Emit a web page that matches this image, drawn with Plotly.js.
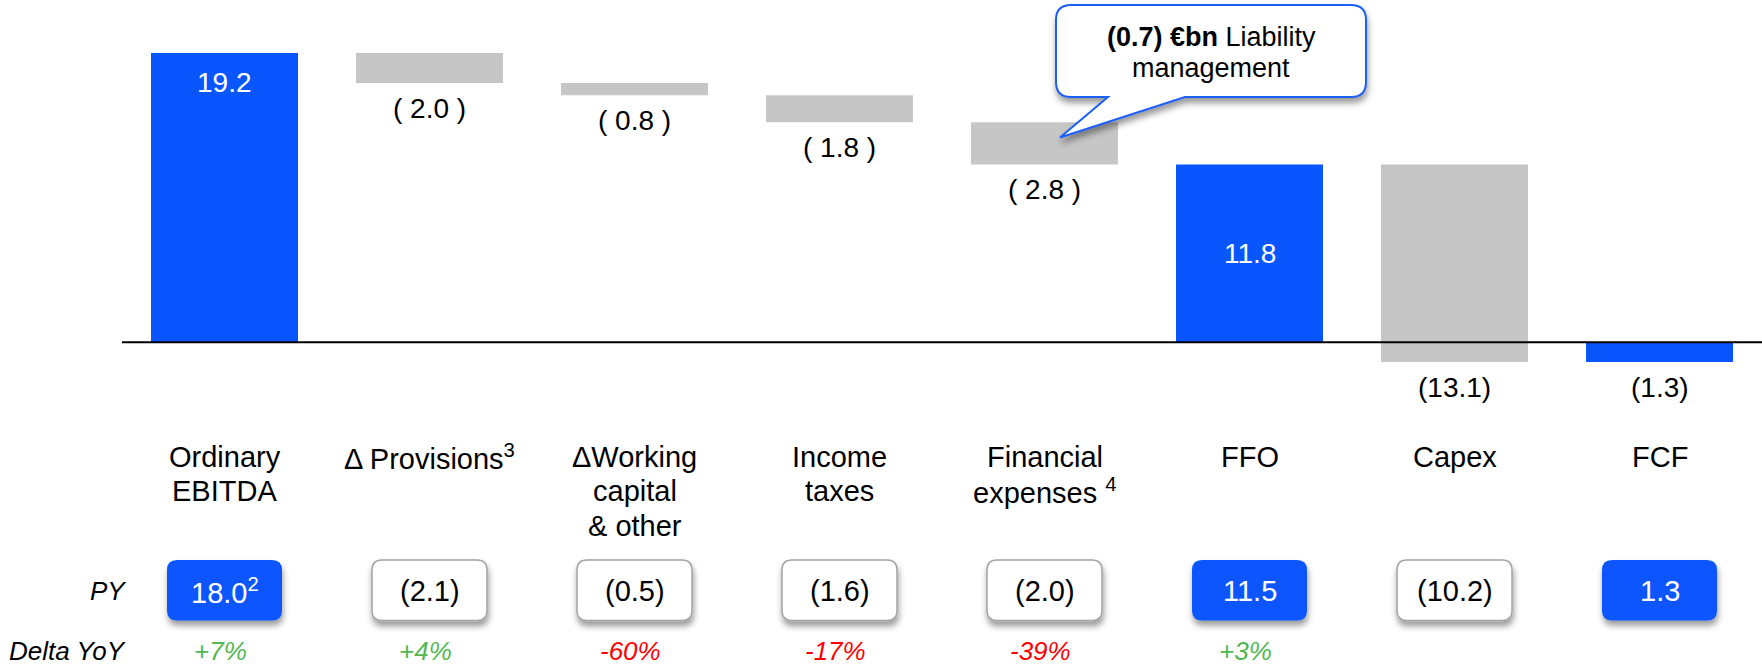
<!DOCTYPE html>
<html>
<head>
<meta charset="utf-8">
<script src="https://cdn.plot.ly/plotly-3.0.1.min.js"></script>
<style>
  html, body { margin: 0; padding: 0; background: #ffffff; }
  #chart { width: 1762px; height: 666px; }
</style>
</head>
<body>
<div id="chart"></div>
<script>
// ---------------- DATA ----------------
const categories = ['Ordinary EBITDA', 'Δ Provisions', 'ΔWorking capital & other', 'Income taxes',
                    'Financial expenses', 'FFO', 'Capex', 'FCF'];
const categoryLabels = ['Ordinary<br>EBITDA', 'Δ Provisions<sup>3</sup>', 'ΔWorking<br>capital<br>& other',
                        'Income<br>taxes', 'Financial<br>expenses <sup>4</sup>', 'FFO', 'Capex', 'FCF'];
const measures = ['absolute', 'relative', 'relative', 'relative', 'relative', 'total', 'relative', 'total'];
const values = [19.2, -2.0, -0.8, -1.8, -2.8, 11.8, -13.1, -1.3];
const valueLabels = ['19.2', '( 2.0 )', '( 0.8 )', '( 1.8 )', '( 2.8 )', '11.8', '(13.1)', '(1.3)'];
const pyLabels = ['18.0<sup>2</sup>', '(2.1)', '(0.5)', '(1.6)', '(2.0)', '11.5', '(10.2)', '1.3'];
const deltaLabels = ['+7%', '+4%', '-60%', '-17%', '-39%', '+3%', '', ''];
const calloutLine1 = '<b>(0.7) €bn</b> Liability';
const calloutLine2 = 'management';
const rowHeaders = ['PY', 'Delta YoY'];

// ---------------- STYLE / LAYOUT ----------------
const W = 1762, H = 666, L = 122, PW = W - L;
const BLUE = '#0956FF', GREY = '#C6C6C6';
const GREEN = '#52B752', RED = '#FF0000';
const FONT = 'Arial, "Liberation Sans", sans-serif';
const labelPlacement = ['insideTop', 'below', 'below', 'below', 'below', 'middle', 'below', 'below'];

const X = px => (px - L) / PW;           // pixel -> paper x
const Y = py => 1 - py / H;              // pixel -> paper y
const n = categories.length;
const catPx = i => L + (i + 0.5) * PW / n; // category center pixel

function rrect(x0, y0, x1, y1, r) {
  return `M ${X(x0 + r)},${Y(y0)} L ${X(x1 - r)},${Y(y0)} Q ${X(x1)},${Y(y0)} ${X(x1)},${Y(y0 + r)} ` +
         `L ${X(x1)},${Y(y1 - r)} Q ${X(x1)},${Y(y1)} ${X(x1 - r)},${Y(y1)} ` +
         `L ${X(x0 + r)},${Y(y1)} Q ${X(x0)},${Y(y1)} ${X(x0)},${Y(y1 - r)} ` +
         `L ${X(x0)},${Y(y0 + r)} Q ${X(x0)},${Y(y0)} ${X(x0 + r)},${Y(y0)} Z`;
}

// cumulative positions (for label placement)
let cum = 0;
const bases = [], ends = [];
measures.forEach((m, i) => {
  if (m === 'absolute') { bases.push(0); cum = values[i]; ends.push(cum); }
  else if (m === 'relative') { bases.push(cum); cum += values[i]; ends.push(cum); }
  else { bases.push(0); ends.push(cum); }
});

const trace = {
  type: 'waterfall',
  x: categories,
  y: values,
  measure: measures,
  width: 0.717,
  connector: { visible: false },
  decreasing: { marker: { color: GREY } },
  increasing: { marker: { color: GREY } },
  totals: { marker: { color: BLUE } },
  textinfo: 'none',
  hoverinfo: 'skip'
};

const annotations = [];
const shapes = [];
const shadowIdx = [];

// bar value labels
categories.forEach((c, i) => {
  const lo = Math.min(bases[i], ends[i]), hi = Math.max(bases[i], ends[i]);
  const p = labelPlacement[i];
  const a = { x: c, xref: 'x', yref: 'y', showarrow: false, text: valueLabels[i],
              font: { family: FONT, size: 28, color: '#000000' } };
  if (p === 'insideTop') { a.y = hi; a.yanchor = 'top'; a.yshift = -12; a.font.color = '#ffffff'; }
  else if (p === 'middle') { a.y = (lo + hi) / 2; a.yanchor = 'middle'; a.font.color = '#ffffff'; }
  else { a.y = lo; a.yanchor = 'top'; a.yshift = -8; }
  annotations.push(a);
});

// category labels (one annotation per line)
categoryLabels.forEach((lab, i) => {
  lab.split('<br>').forEach((line, k) => {
    annotations.push({ x: X(catPx(i)), xref: 'paper', y: Y(457 + k * 34.3), yref: 'paper',
      xanchor: 'center', yanchor: 'middle', showarrow: false, text: line,
      font: { family: FONT, size: 29, color: '#000000' } });
  });
});

// PY boxes and delta labels
categories.forEach((c, i) => {
  const isTotal = measures[i] !== 'relative';
  const cx = catPx(i);
  shadowIdx.push(shapes.length);
  shapes.push({ type: 'path', xref: 'paper', yref: 'paper', layer: 'above',
    path: rrect(cx - 57.5, 560, cx + 57.5, 620.5, 10),
    fillcolor: isTotal ? BLUE : '#ffffff',
    line: { color: isTotal ? BLUE : '#A3A3A3', width: isTotal ? 0 : 1.5 } });
  annotations.push({ x: X(cx), xref: 'paper', y: Y(590.5), yref: 'paper', xanchor: 'center', yanchor: 'middle',
    showarrow: false, text: pyLabels[i],
    font: { family: FONT, size: 29, color: isTotal ? '#ffffff' : '#000000' } });
  if (deltaLabels[i]) {
    annotations.push({ x: X(cx - 4), xref: 'paper', y: Y(651), yref: 'paper', xanchor: 'center', yanchor: 'middle',
      showarrow: false, text: '<i>' + deltaLabels[i] + '</i>',
      font: { family: FONT, size: 26, color: deltaLabels[i].startsWith('-') ? RED : GREEN } });
  }
});

// row headers
[590.5, 651].forEach((py, k) => {
  annotations.push({ x: X(128), xref: 'paper', y: Y(py), yref: 'paper', xanchor: 'right', yanchor: 'middle',
    showarrow: false, text: '<i>' + rowHeaders[k] + '</i>', font: { family: FONT, size: 26, color: '#000000' } });
});

// zero line
shapes.push({ type: 'line', xref: 'paper', x0: 0, x1: 1, yref: 'y', y0: 0, y1: 0, layer: 'above',
  line: { color: '#000000', width: 2 } });

// callout bubble
(function () {
  const x0 = 1056, x1 = 1366, y0 = 5, y1 = 97, r = 15;
  const path = `M ${X(x0 + r)},${Y(y0)} L ${X(x1 - r)},${Y(y0)} Q ${X(x1)},${Y(y0)} ${X(x1)},${Y(y0 + r)} ` +
    `L ${X(x1)},${Y(y1 - r)} Q ${X(x1)},${Y(y1)} ${X(x1 - r)},${Y(y1)} ` +
    `L ${X(1185)},${Y(y1)} L ${X(1060)},${Y(137.5)} L ${X(1108)},${Y(y1)} ` +
    `L ${X(x0 + r)},${Y(y1)} Q ${X(x0)},${Y(y1)} ${X(x0)},${Y(y1 - r)} ` +
    `L ${X(x0)},${Y(y0 + r)} Q ${X(x0)},${Y(y0)} ${X(x0 + r)},${Y(y0)} Z`;
  shadowIdx.push(shapes.length);
  shapes.push({ type: 'path', xref: 'paper', yref: 'paper', layer: 'above', path: path,
    fillcolor: '#ffffff', line: { color: '#1E5EF5', width: 2 } });
  annotations.push({ x: X(1211), xref: 'paper', y: Y(37.5), yref: 'paper', xanchor: 'center', yanchor: 'middle',
    showarrow: false, text: calloutLine1, font: { family: FONT, size: 27, color: '#000000' } });
  annotations.push({ x: X(1211), xref: 'paper', y: Y(68.5), yref: 'paper', xanchor: 'center', yanchor: 'middle',
    showarrow: false, text: calloutLine2, font: { family: FONT, size: 27, color: '#000000' } });
})();

const pxPerUnit = 15.07, zeroPx = 342.3;
const layout = {
  width: W, height: H,
  margin: { l: L, r: 0, t: 0, b: 0, pad: 0 },
  paper_bgcolor: '#ffffff', plot_bgcolor: '#ffffff',
  showlegend: false,
  xaxis: { type: 'category', range: [-0.5, n - 0.5], showticklabels: false, showgrid: false,
           zeroline: false, showline: false, ticks: '', fixedrange: true },
  yaxis: { range: [-(H - zeroPx) / pxPerUnit, zeroPx / pxPerUnit], showticklabels: false, showgrid: false,
           zeroline: false, showline: false, ticks: '', fixedrange: true },
  shapes: shapes,
  annotations: annotations,
  font: { family: FONT }
};

Plotly.newPlot('chart', [trace], layout, { displayModeBar: false, staticPlot: true }).then(gd => {
  const svg = gd.querySelector('svg.main-svg');
  const NS = 'http://www.w3.org/2000/svg';
  const defs = document.createElementNS(NS, 'defs');
  const filter = document.createElementNS(NS, 'filter');
  filter.setAttribute('id', 'dropShadow');
  filter.setAttribute('x', '-20%'); filter.setAttribute('y', '-20%');
  filter.setAttribute('width', '140%'); filter.setAttribute('height', '160%');
  const fe = document.createElementNS(NS, 'feDropShadow');
  fe.setAttribute('dx', '1'); fe.setAttribute('dy', '5');
  fe.setAttribute('stdDeviation', '3'); fe.setAttribute('flood-color', '#000000');
  fe.setAttribute('flood-opacity', '0.4');
  filter.appendChild(fe); defs.appendChild(filter); svg.insertBefore(defs, svg.firstChild);
  gd.querySelectorAll('.shapelayer path').forEach(p => {
    const idx = parseInt(p.getAttribute('data-index'), 10);
    if (shadowIdx.includes(idx)) p.setAttribute('filter', 'url(#dropShadow)');
  });
});
</script>
</body>
</html>
